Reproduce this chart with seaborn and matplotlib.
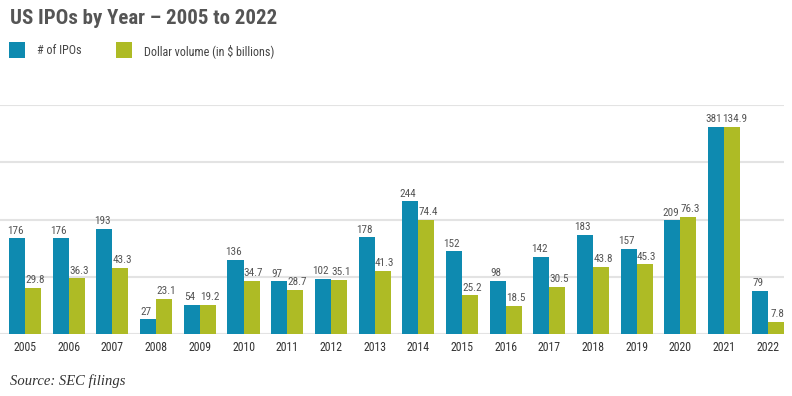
import numpy as np
import pandas as pd
import seaborn as sns
import matplotlib.pyplot as plt
from matplotlib.patches import Rectangle

years = [str(y) for y in range(2005, 2023)]
ipo_counts = [176, 176, 193, 27, 54, 136, 97, 102, 178, 244, 152, 98, 142, 183, 157, 209, 381, 79]
dollar_volume = [29.8, 36.3, 43.3, 23.1, 19.2, 34.7, 28.7, 35.1, 41.3, 74.4, 25.2, 18.5, 30.5, 43.8, 45.3, 76.3, 134.9, 7.8]
series_names = ["# of IPOs", "Dollar volume (in $ billions)"]
colors = ["#0E8AB0", "#AEBB25"]

sns.set_theme(style="white")
plt.rcParams["font.family"] = ["Roboto Condensed", "Roboto", "DejaVu Sans"]

df_ipo = pd.DataFrame({"year": years, "value": ipo_counts, "series": series_names[0]})
df_vol = pd.DataFrame({"year": years, "value": dollar_volume, "series": series_names[1]})

fig = plt.figure(figsize=(7.92, 3.96), dpi=100)
ax = fig.add_axes([0.0, 62 / 396, 784 / 792, 229 / 396])
ax2 = ax.twinx()

palette = dict(zip(series_names, colors))
sns.barplot(data=df_ipo, x="year", y="value", hue="series", hue_order=series_names,
            palette=palette, order=years, width=0.734, gap=0, dodge=True,
            saturation=1, legend=False, linewidth=0, ax=ax)
sns.barplot(data=df_vol, x="year", y="value", hue="series", hue_order=series_names,
            palette=palette, order=years, width=0.734, gap=0, dodge=True,
            saturation=1, legend=False, linewidth=0, ax=ax2)

# align the two maxima at the same height
top_left = 421.5
ax.set_ylim(0, top_left)
ax2.set_ylim(0, top_left * max(dollar_volume) / max(ipo_counts))
ax.set_xlim(-0.573, len(years) - 1 + 0.37)

# value labels, nudged apart so neighbouring pairs don't collide
for c in ax.containers:
    for lab in ax.bar_label(c, fmt="%d", padding=2, fontsize=8, color="#555555"):
        lab.xyann = (-1.5, 2)
for c in ax2.containers:
    for lab in ax2.bar_label(c, fmt="%.1f", padding=2, fontsize=8, color="#555555"):
        lab.xyann = (1.5, 2)

ax.set_yticks(np.linspace(0, top_left, 5))
ax.yaxis.grid(True, color="#e3e3e3", linewidth=1.5)
ax.set_axisbelow(True)
ax.tick_params(axis="y", left=False, labelleft=False)
ax2.set_yticks([])
ax.tick_params(axis="x", length=0, pad=5, labelsize=8.5, labelcolor="#333333")
ax2.tick_params(axis="x", length=0)
ax.set_xlabel("")
ax.set_ylabel("")
ax2.set_ylabel("")
for a in (ax, ax2):
    for s in a.spines.values():
        s.set_visible(False)
ax.set_zorder(1)
ax2.set_zorder(2)
ax2.patch.set_visible(False)

fig.text(10 / 792, 1 - 18 / 396, "US IPOs by Year \u2013 2005 to 2022", fontsize=15,
         fontweight="bold", color="#555555", va="center", ha="left")

# legend drawn as squares + text
leg_y = 1 - 58 / 396
sq_w, sq_h = 16 / 792, 16 / 396
for x0, name, col in [(9, series_names[0], colors[0]), (116, series_names[1], colors[1])]:
    fig.patches.append(Rectangle((x0 / 792, leg_y), sq_w, sq_h, transform=fig.transFigure,
                                 facecolor=col, edgecolor="none"))
    fig.text((x0 + 28) / 792, 1 - 51 / 396, name, fontsize=8.75, color="#444444",
             va="center", ha="left")

fig.text(10 / 792, 1 - 381 / 396, "Source: SEC filings", fontsize=10.5, style="italic",
         family=["Liberation Serif", "DejaVu Serif"], color="#333333", va="center", ha="left")

fig.savefig("out.png", dpi=100)
